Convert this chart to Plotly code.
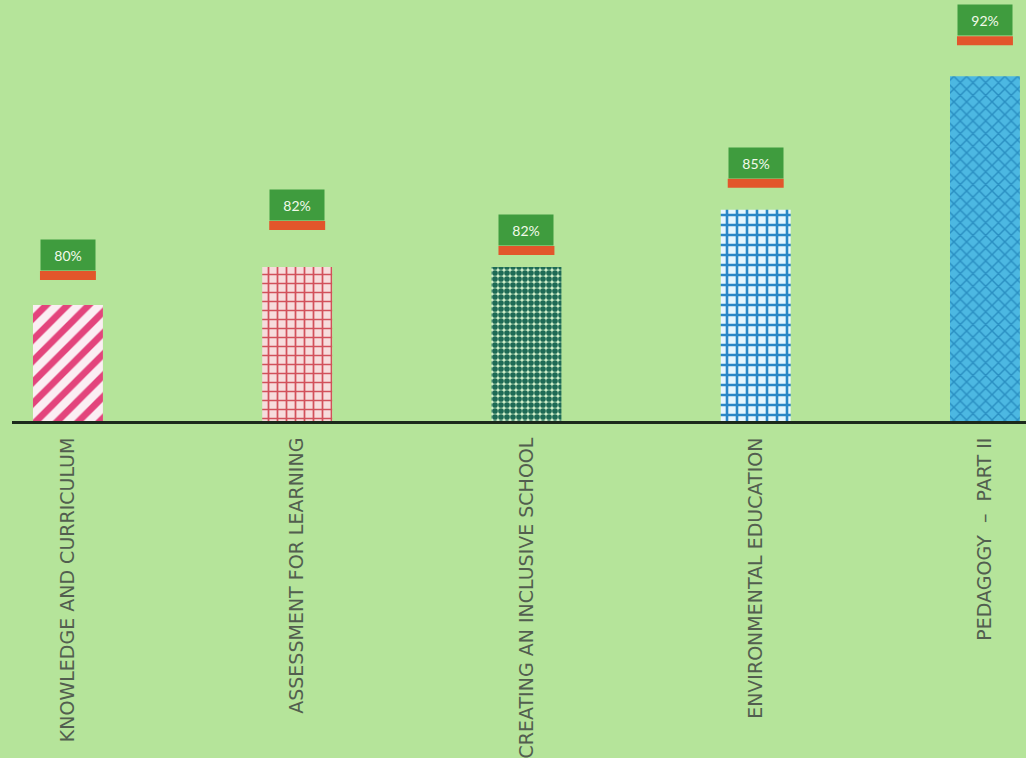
import plotly.graph_objects as go

# data
courses = ["KNOWLEDGE AND CURRICULUM", "ASSESSMENT FOR LEARNING",
           "CREATING AN INCLUSIVE SCHOOL", "ENVIRONMENTAL EDUCATION",
           "PEDAGOGY  \u2013  PART II"]
scores = [80, 82, 82, 85, 92]
score_labels = ["80%", "82%", "82%", "85%", "92%"]

# styling
bg = "#b5e49a"
patterns = [
    dict(shape="/", fgcolor="#e3447c", bgcolor="#fbeef3", size=15, solidity=0.45),
    dict(shape="+", fgcolor="#d2505a", bgcolor="#f7dcdc", size=9, solidity=0.35),
    dict(shape=".", fgcolor="#1d6a55", bgcolor="#cfeec8", size=6, solidity=0.7),
    dict(shape="+", fgcolor="#2a86c6", bgcolor="#e6f6ff", size=10, solidity=0.45),
    dict(shape="x", fgcolor="#2a8fc2", bgcolor="#4cb8e2", size=9, solidity=0.3),
]
label_gap = [25, 37, 12, 22, 31]  # px between bar top and label strip

x = list(range(len(courses)))

fig = go.Figure()
for i in x:
    p = patterns[i]
    fig.add_trace(go.Bar(
        x=[x[i]], y=[scores[i]], width=0.305,
        marker=dict(color=p["bgcolor"], line=dict(width=0),
                    pattern=dict(shape=p["shape"], fgcolor=p["fgcolor"],
                                 bgcolor=p["bgcolor"], size=p["size"],
                                 solidity=p["solidity"], fillmode="replace")),
        hoverinfo="skip", showlegend=False,
    ))

for i, (v, lab) in enumerate(zip(scores, score_labels)):
    g = label_gap[i]
    fig.add_shape(type="rect", xref="x", yref="y", x0=i - 0.122, x1=i + 0.122,
                  ysizemode="pixel", yanchor=v, y0=g, y1=g + 9,
                  fillcolor="#e2562b", line=dict(width=0), layer="above")
    fig.add_annotation(x=i, y=v, yref="y", xref="x", text=lab, showarrow=False,
                       yanchor="bottom", yshift=g + 9, width=52, height=28,
                       bgcolor="#3f9c3e", borderpad=1,
                       font=dict(family="Lato", size=14, color="#f2faea"))

fig.update_layout(
    width=1026, height=758, barmode="overlay",
    paper_bgcolor=bg, plot_bgcolor=bg,
    margin=dict(l=12, r=0, t=0, b=333),
    xaxis=dict(range=[-0.244, 4.179], tickmode="array", tickvals=x, ticktext=courses,
               tickangle=-90, showline=True, linecolor="#1c2a1c", linewidth=3,
               showgrid=False, zeroline=False, ticks="", ticklabelstandoff=6,
               tickfont=dict(family="DejaVu Sans", size=19, color="#525e4f")),
    yaxis=dict(range=[73.92, 96.0], visible=False, showgrid=False),
)

fig.write_html("out.html", config={"displayModeBar": False},
               post_script="document.body.style.margin='0';")
